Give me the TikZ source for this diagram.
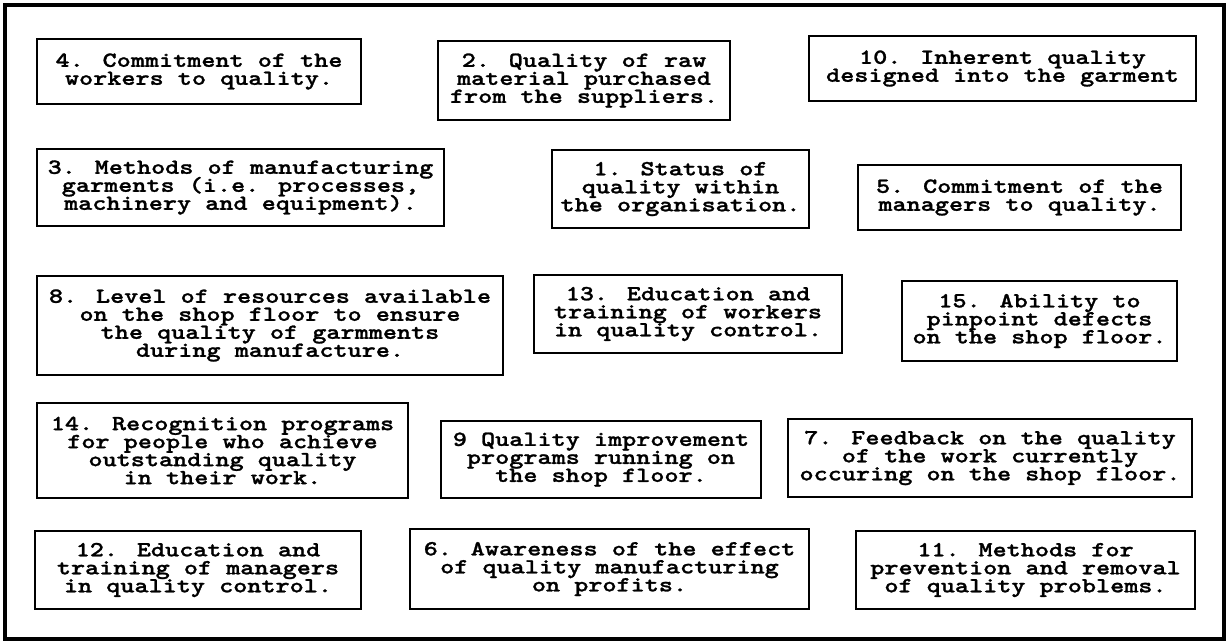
\documentclass[tikz,border=0pt]{standalone}
\usepackage{fontspec}
% heavy typewriter face, widened and thickened to a printer-like cell
\newfontfamily\boxfont{lmmonolt10-bold}[Extension=.otf, FakeStretch=1.25, FakeBold=1.2]
\newcommand\factorfont{\boxfont\fontsize{21.5}{18}\selectfont\lineskiplimit=-30pt\relax}
\begin{document}
\begin{tikzpicture}[x=1pt,y=-1pt,
  factor/.style={draw=black, line width=1.8pt, inner sep=0pt, align=center,
    font=\factorfont, text=black},
  frame/.style={draw=black, line width=3.5pt}]
\useasboundingbox (0,0) rectangle (1230,642);
\draw[frame] (5,5) rectangle (1224,639);

% row 1
\node[factor, minimum width=324, minimum height=65] (f4) at (199,71.5)
  {4. Commitment of the\\workers to quality.};
\node[factor, minimum width=292, minimum height=79] (f2) at (584,80.5)
  {2. Quality of raw\\material purchased\\from the suppliers.};
\node[factor, minimum width=387, minimum height=65] (f10) at (1002.5,68.5)
  {10. Inherent quality\\designed into the garment};

% row 2
\node[factor, minimum width=407, minimum height=77] (f3) at (240.5,187.5)
  {3. Methods of manufacturing\\garments (i.e. processes,\\machinery and equipment).};
\node[factor, minimum width=257, minimum height=78] (f1) at (680.5,189)
  {1. Status of\\quality within\\the organisation.};
\node[factor, minimum width=323, minimum height=65] (f5) at (1019.5,197.5)
  {5. Commitment of the\\managers to quality.};

% row 3
\node[factor, minimum width=466, minimum height=99] (f8) at (270,325.5)
  {8. Level of resources available\\on the shop floor to ensure\\the quality of garmments\\during manufacture.};
\node[factor, minimum width=308, minimum height=78] (f13) at (688,314)
  {13. Education and\\training of workers\\in quality control.};
\node[factor, minimum width=275, minimum height=80] (f15) at (1039.5,321)
  {15. Ability to\\pinpoint defects\\on the shop floor.};

% row 4
\node[factor, minimum width=371, minimum height=95] (f14) at (222.5,450.5)
  {14. Recognition programs\\for people who achieve\\outstanding quality\\in their work.};
\node[factor, minimum width=320, minimum height=77] (f9) at (601,459.5)
  {9 Quality improvement\\programs running on\\the shop floor.};
\node[factor, minimum width=404, minimum height=78] (f7) at (990,458)
  {7. Feedback on the quality\\of the work currently\\occuring on the shop floor.};

% row 5
\node[factor, minimum width=326, minimum height=78] (f12) at (198,570)
  {12. Education and\\training of managers\\in quality control.};
\node[factor, minimum width=399, minimum height=80] (f6) at (609.5,569)
  {6. Awareness of the effect\\of quality manufacturing\\on profits.};
\node[factor, minimum width=339, minimum height=78] (f11) at (1025.5,570)
  {11. Methods for\\prevention and removal\\of quality problems.};
\end{tikzpicture}
\end{document}
